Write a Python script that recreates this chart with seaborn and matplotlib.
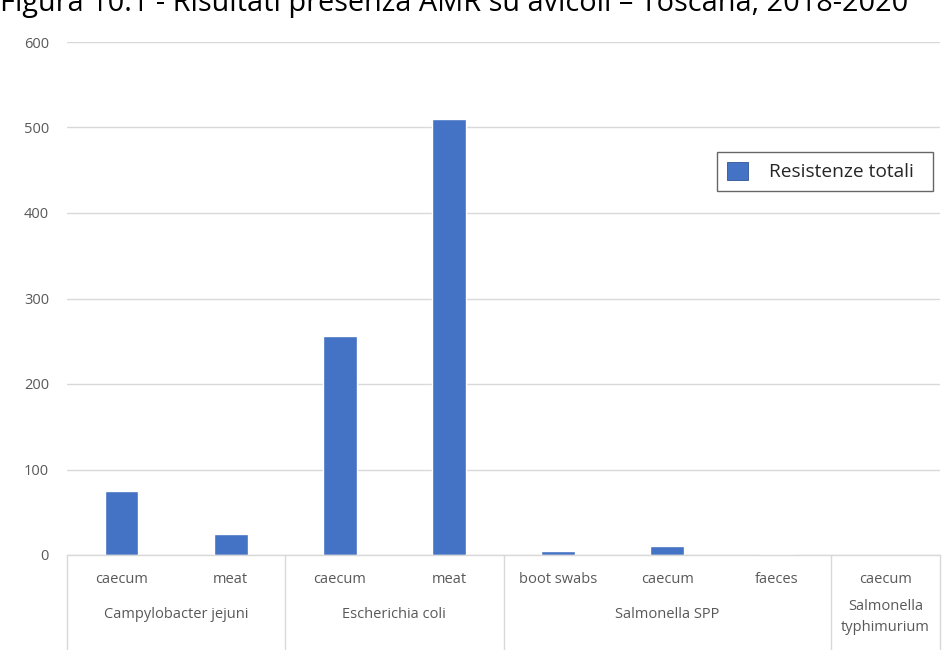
import matplotlib
matplotlib.use("Agg")
import matplotlib.pyplot as plt
import matplotlib.transforms as mtransforms
from matplotlib.patches import Patch
import seaborn as sns
import pandas as pd

# Data: antimicrobial resistance totals by organism and sample matrix
organisms = ["Campylobacter jejuni", "Campylobacter jejuni",
             "Escherichia coli", "Escherichia coli",
             "Salmonella SPP", "Salmonella SPP", "Salmonella SPP",
             "Salmonella\ntyphimurium"]
samples = ["caecum", "meat", "caecum", "meat",
           "boot swabs", "caecum", "faeces", "caecum"]
resistenze = [75, 24, 256, 510, 5, 10, 1, 0]
yticks = [0, 100, 200, 300, 400, 500, 600]

title = "Figura 10.1 - Risultati presenza AMR su avicoli \u2013 Toscana, 2018-2020"
series_name = "Resistenze totali"

bar_color = "#4472C4"
grid_color = "#D9D9D9"
text_gray = "#595959"

sns.set_theme(style="white")
plt.rcParams["font.family"] = ["Open Sans", "DejaVu Sans"]

df = pd.DataFrame({
    "key": [f"{i}" for i in range(len(samples))],
    "organism": organisms,
    "sample": samples,
    "value": resistenze,
})

fig = plt.figure(figsize=(9.5, 6.5), dpi=100)
ax = fig.add_axes([67 / 950, 1 - 555 / 650, (940 - 67) / 950, (555 - 42) / 650])

sns.barplot(data=df, x="key", y="value", color=bar_color, width=0.31,
            saturation=1, ax=ax, order=list(df["key"]))

ax.set_xlim(-0.5, len(samples) - 0.5)
ax.set_ylim(0, 600)
ax.set_yticks(yticks)
ax.set_yticklabels([str(t) for t in yticks], color=text_gray, fontsize=10.5)
ax.tick_params(axis="y", length=0, pad=13)
ax.yaxis.grid(True, color=grid_color, linewidth=1)
ax.set_axisbelow(True)
for s in ["top", "right", "left"]:
    ax.spines[s].set_visible(False)
ax.spines["bottom"].set_color(grid_color)
ax.spines["bottom"].set_linewidth(1)
ax.set_xlabel("")
ax.set_ylabel("")

# First level of the category axis: sample matrix
ax.set_xticks(range(len(samples)))
ax.set_xticklabels(samples, color=text_gray, fontsize=10.5)
ax.tick_params(axis="x", length=0, pad=12)

# Second level: organism groups with separator lines
trans = mtransforms.blended_transform_factory(ax.transData, ax.transAxes)
px = 1 / (555 - 42)
groups = []
for i, org in enumerate(organisms):
    if groups and groups[-1][0] == org:
        groups[-1][2] = i
    else:
        groups.append([org, i, i])
bounds = [g[1] - 0.5 for g in groups] + [groups[-1][2] + 0.5]
for b in bounds:
    ax.plot([b, b], [0, -100 * px], transform=trans, color=grid_color,
            linewidth=1, clip_on=False)
for org, a, b in groups:
    xc = (a + b) / 2
    n_lines = org.count("\n") + 1
    yc = -59 * px if n_lines == 1 else -62 * px
    ax.text(xc, yc, org, transform=trans, ha="center", va="center",
            color=text_gray, fontsize=10.5, linespacing=1.5)

# Legend
handle = Patch(facecolor=bar_color, edgecolor="#2F5597", linewidth=0.6)
leg = ax.legend([handle], [series_name + "  "], loc="upper left",
                bbox_to_anchor=((717 - 67) / 873, 1 - (152 - 42) / 513),
                frameon=True, fancybox=False, fontsize=13.8,
                handlelength=1.1, handleheight=1.1, handletextpad=1.1,
                borderpad=0.5, borderaxespad=0)
leg.get_frame().set_edgecolor("#404040")
leg.get_frame().set_linewidth(1)
for t in leg.get_texts():
    t.set_color("#262626")

# Title, running off the top edge
fig.text(0.0, 1 - 11 / 650, title, ha="left", va="baseline",
         fontsize=20.8, color="black", family=["Open Sans", "DejaVu Sans"])

fig.savefig("out.png", dpi=100, facecolor="white")
